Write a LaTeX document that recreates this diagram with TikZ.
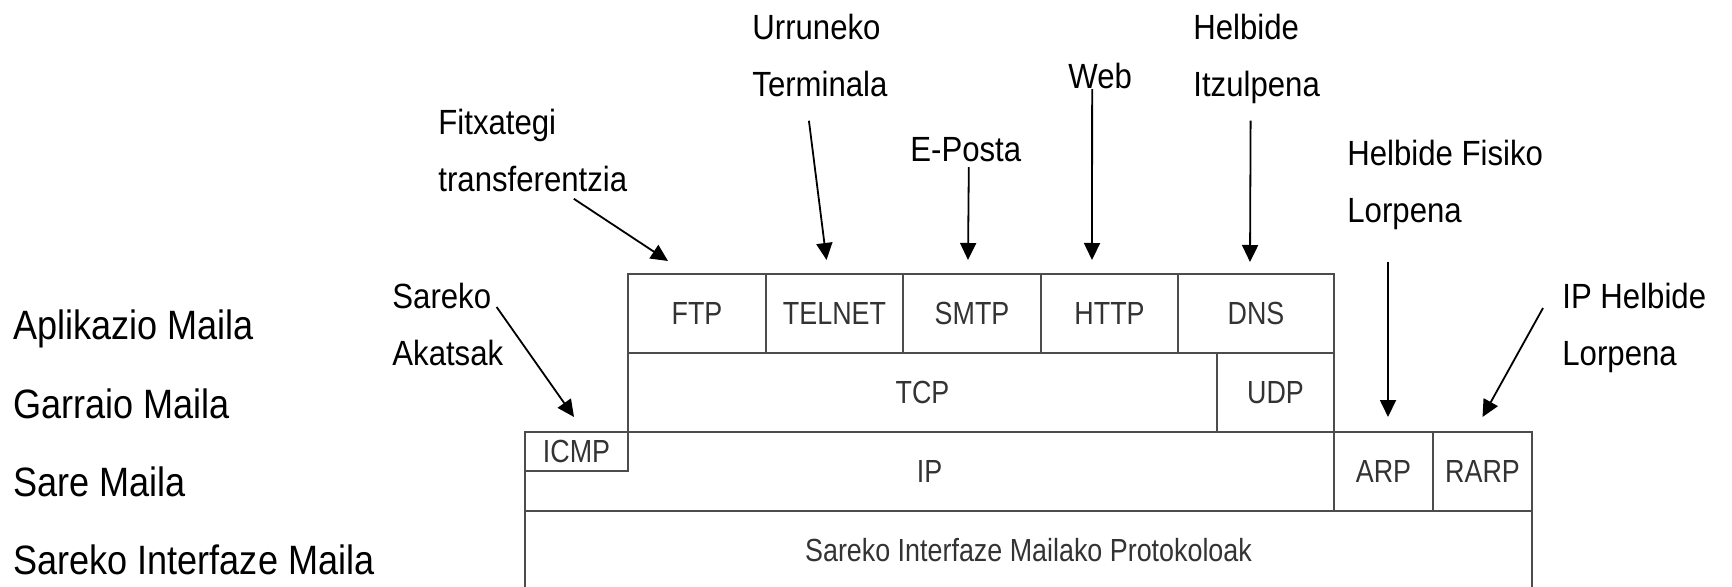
\documentclass[tikz,border=0pt]{standalone}
\usepackage{fontspec}
\setmainfont{Liberation Sans}
\newfontfamily\sidefont[FakeStretch=0.88]{Liberation Sans}
\newfontfamily\boxfont[FakeStretch=0.84]{Liberation Sans}
\newfontfamily\lblfont[FakeStretch=0.89]{Liberation Sans}
\usetikzlibrary{arrows.meta}

\begin{document}
\begin{tikzpicture}[
  x=0.5pt, y=-0.5pt,
  layer/.style={draw=black!70, line width=1.2pt, inner sep=0pt, outer sep=0pt, anchor=north west, text=black!80, font=\boxfont\fontsize{16}{19}\selectfont},
  lbl/.style={inner sep=0pt, anchor=west, align=left, font=\lblfont\fontsize{17.5}{28.5}\selectfont},
  side/.style={inner sep=0pt, anchor=west, font=\sidefont\fontsize{20.5}{24}\selectfont},
  arrow/.style={-{Triangle[length=8.5pt,width=8pt]}, line width=0.9pt}
]
\useasboundingbox (0,0) rectangle (1732,587);

% layer names on the left
\node[side] (aplik) at (13,329) {Aplikazio Maila};
\node[side] (garr) at (13,404) {Garraio Maila};
\node[side] (sare) at (13,482) {Sare Maila};
\node[side] (sinter) at (13,560) {Sareko Interfaze Maila};

% protocol stack
\node[layer, minimum width=69pt, minimum height=39.5pt] (ftp) at (628,274) {FTP};
\node[layer, minimum width=68.5pt, minimum height=39.5pt] (telnet) at (766,274) {TELNET};
\node[layer, minimum width=69pt, minimum height=39.5pt] (smtp) at (903,274) {SMTP};
\node[layer, minimum width=68.5pt, minimum height=39.5pt] (http) at (1041,274) {HTTP};
\node[layer, minimum width=78pt, minimum height=39.5pt] (dns) at (1178,274) {DNS};

\node[layer, minimum width=294.5pt, minimum height=39.5pt] (tcp) at (628,353) {TCP};
\node[layer, minimum width=58.5pt, minimum height=39.5pt] (udp) at (1217,353) {UDP};

\node[layer, minimum width=404.5pt, minimum height=39.5pt] (ip) at (525,432) {IP};
\node[layer, minimum width=51.5pt, minimum height=19.5pt] (icmp) at (525,432) {ICMP};
\node[layer, minimum width=49.5pt, minimum height=39.5pt] (arp) at (1334,432) {ARP};
\node[layer, minimum width=49.5pt, minimum height=39.5pt] (rarp) at (1433,432) {RARP};

\node[layer, minimum width=503.5pt, minimum height=39.5pt] (nif) at (525,511) {Sareko Interfaze Mailako Protokoloak};

% what each protocol is for
\node[lbl] (fitx) at (438,150) {Fitxategi\\transferentzia};
\node[lbl] (urrun) at (752,55.5) {Urruneko\\Terminala};
\node[lbl] (eposta) at (910,150) {E-Posta};
\node[lbl] (web) at (1068,76) {Web};
\node[lbl] (itzul) at (1193,59) {Helbide\\Itzulpena};
\node[lbl] (fisiko) at (1347,185) {Helbide Fisiko\\Lorpena};
\node[lbl] (iphelb) at (1562,328) {IP Helbide\\Lorpena};
\node[lbl] (akats) at (392,324) {Sareko\\Akatsak};

\draw[arrow] ([shift={(41,7)}]fitx.south) -- ([shift={(40,-13)}]ftp.north west);
\draw[arrow] ([shift={(-11,23.5)}]urrun.south) -- ([shift={(-8,-14)}]telnet.north);
\draw[arrow] ([shift={(3,4.5)}]eposta.south) -- ([shift={(-4,-14)}]smtp.north);
\draw[arrow] ([shift={(-8,0)}]web.south) -- ([shift={(-17.5,-14)}]http.north);
\draw[arrow] ([shift={(-6,16.5)}]itzul.south) -- ([shift={(-6,-12)}]dns.north);
\draw[arrow] ([shift={(41,31.5)}]fisiko.south west) -- ([shift={(4.5,-15)}]arp.north);
\draw[arrow] ([shift={(-19,-20)}]iphelb.west) -- ([shift={(0,-15)}]rarp.north);
\draw[arrow] ([shift={(-7,-17)}]akats.east) -- ([shift={(-2.5,-15)}]icmp.north);

\end{tikzpicture}
\end{document}
